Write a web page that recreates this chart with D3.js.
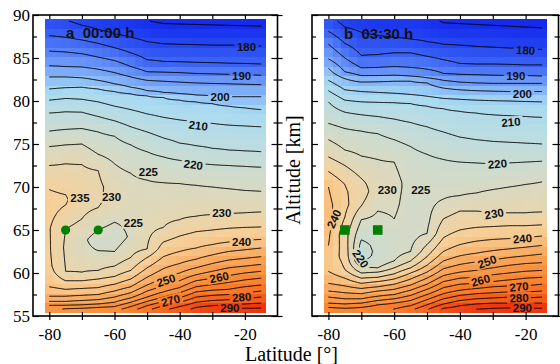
<!DOCTYPE html>
<html>
<head>
<meta charset="utf-8">
<script src="https://cdn.jsdelivr.net/npm/d3@7"></script>
<style>
  html, body { margin: 0; padding: 0; background: #fff; }
  svg { display: block; }
</style>
</head>
<body>
<svg id="chart" width="560" height="364"></svg>
<script>
// ---- data -------------------------------------------------------------
// latitude columns of the temperature sections (deg)
const latitudes = [-80, -75, -70, -65, -60, -55, -50, -45, -40, -35, -30, -25, -20, -15];

// isotherm levels (K)
const contourLevels = [175, 180, 185, 190, 195, 200, 205, 210, 215, 220, 225, 230,
                       235, 240, 245, 250, 255, 260, 265, 270, 275, 280, 285, 290];

// temperature profiles for each latitude column: [altitude km, temperature K]
// section a, 00:00 h
const profilesA = [
  [[89.6,180.8],[87.6,185],[85.8,190],[84.1,195],[82.8,200],[81.4,205],[80.1,210],[78.6,215],[76.5,220],[74.7,225],[72.5,230],[69.7,235],[67.8,237],[65.2,235.3],[62.5,235.5],[60.8,236],[58.4,240],[57.3,245],[56.7,250],[56.25,255],[55.4,261]],
  [[89.6,179.6],[89.4,180],[87.4,185],[85.7,190],[84.0,195],[82.8,200],[81.55,205],[80.3,210],[78.75,215],[76.7,220],[74.9,225],[72.7,230],[69.1,235],[68.5,235.6],[67.9,235],[65.1,230],[63.0,229.2],[60.2,230],[59.1,235],[58.1,240],[57.3,245],[56.7,250],[56.25,255],[55.85,260],[55.4,264]],
  [[89.6,178.3],[88.8,180],[87.1,185],[85.5,190],[83.95,195],[82.7,200],[81.6,205],[80.2,210],[78.7,215],[76.8,220],[75.0,225],[72.6,230],[70.5,232.5],[68.5,232],[66.3,230],[64.0,226.3],[62.5,226.5],[60.1,230],[59.1,235],[58.2,240],[57.4,245],[56.8,250],[56.3,255],[55.9,260],[55.4,265]],
  [[89.6,177.5],[88.3,180],[86.7,185],[85.1,190],[83.7,195],[82.4,200],[81.4,205],[79.9,210],[78.2,215],[76.4,220],[73.8,225],[71.9,230],[70.0,231],[68.5,230.6],[67.6,230],[65.0,225],[63.8,222.5],[62.6,225],[60.3,230],[59.3,235],[58.3,240],[57.5,245],[56.9,250],[56.4,255],[56.0,260],[55.4,266]],
  [[89.6,176.6],[87.8,180],[86.2,185],[84.7,190],[83.3,195],[82.0,200],[81.1,205],[79.4,210],[77.7,215],[75.9,220],[72.7,225],[70.0,228],[68.0,228.5],[65.9,225],[64.2,222],[62.5,225],[60.8,230],[59.6,235],[58.7,240],[57.9,245],[57.2,250],[56.6,255],[56.1,260],[55.4,267]],
  [[89.6,175.8],[87.4,180],[85.6,185],[84.0,190],[82.8,195],[81.6,200],[80.85,205],[79.0,210],[77.0,215],[74.9,220],[71.6,225],[68.5,227],[64.2,225.8],[61.8,230],[60.3,235],[59.3,240],[58.4,245],[57.7,250],[57.1,255],[56.6,260],[56.1,265],[55.4,271]],
  [[89.6,174.6],[89.35,175],[86.9,180],[84.8,185],[83.4,190],[82.4,195],[81.2,200],[80.6,205],[78.5,210],[76.4,215],[74.1,220],[70.8,225],[66.5,228],[62.8,230],[61.8,235],[60.6,240],[59.5,245],[58.6,250],[57.9,255],[57.2,260],[56.7,265],[56.2,270],[55.4,277]],
  [[89.6,173.9],[89.0,175],[86.65,180],[84.6,185],[83.35,190],[82.3,195],[81.0,200],[80.4,205],[78.1,210],[75.7,215],[73.5,220],[70.5,225],[65.3,230],[63.6,235],[61.9,240],[60.5,245],[59.4,250],[58.5,255],[57.8,260],[57.2,265],[56.7,270],[56.2,275],[55.4,282]],
  [[89.6,173.7],[88.95,175],[86.6,180],[84.55,185],[83.3,190],[82.2,195],[80.85,200],[80.1,205],[77.8,210],[75.1,215],[73.1,220],[70.4,225],[66.2,230],[64.3,235],[62.5,240],[61.1,245],[60.0,250],[59.1,255],[58.3,260],[57.7,265],[57.1,270],[56.6,275],[56.1,280],[55.4,286]],
  [[89.6,173.6],[88.9,175],[86.55,180],[84.5,185],[83.2,190],[82.1,195],[80.7,200],[79.9,205],[77.6,210],[74.8,215],[72.8,220],[70.2,225],[66.6,230],[64.8,235],[62.9,240],[61.6,245],[60.6,250],[59.8,255],[59.1,260],[58.4,265],[57.8,270],[57.2,275],[56.6,280],[56.0,285],[55.4,288.5]],
  [[89.6,173.5],[88.85,175],[86.5,180],[84.45,185],[83.15,190],[82.05,195],[80.6,200],[79.7,205],[77.4,210],[74.5,215],[72.6,220],[70.0,225],[66.8,230],[65.0,235],[63.3,240],[62.1,245],[61.1,250],[60.2,255],[59.4,260],[58.65,265],[58.0,270],[57.4,275],[56.8,280],[56.2,285],[55.75,290],[55.4,291]],
  [[89.6,173.4],[88.8,175],[86.5,180],[84.4,185],[83.1,190],[82.0,195],[80.5,200],[79.4,205],[77.2,210],[74.3,215],[72.5,220],[69.8,225],[66.9,230],[65.2,235],[63.6,240],[62.5,245],[61.5,250],[60.6,255],[59.7,260],[58.9,265],[58.1,270],[57.5,275],[56.9,280],[56.3,285],[55.85,290],[55.4,292]],
  [[89.6,173.3],[88.75,175],[86.45,180],[84.35,185],[83.05,190],[81.95,195],[80.5,200],[79.2,205],[77.1,210],[74.2,215],[72.4,220],[69.6,225],[67.0,230],[65.3,235],[63.8,240],[62.7,245],[61.7,250],[60.8,255],[60.0,260],[59.2,265],[58.4,270],[57.7,275],[57.05,280],[56.4,285],[55.9,290],[55.4,292]],
  [[89.6,173.2],[88.7,175],[86.4,180],[84.3,185],[83.0,190],[81.9,195],[80.5,200],[79.0,205],[77.0,210],[74.1,215],[72.3,220],[69.5,225],[67.1,230],[65.35,235],[63.9,240],[62.9,245],[61.9,250],[61.0,255],[60.2,260],[59.4,265],[58.6,270],[57.9,275],[57.2,280],[56.5,285],[55.95,290],[55.4,291.5]]
];

// section b, 03:30 h
const profilesB = [
  [[89.6,181],[88.1,185],[86.6,190],[84.9,195],[83.8,200],[82.4,205],[81.2,210],[79.9,215],[77.4,220],[75.5,225],[73.5,230],[71.8,235],[70.0,240],[66.5,242],[63.2,240],[61.8,238.5],[60.2,240],[58.8,245],[57.9,250],[57.2,255],[56.5,260],[56.0,265],[55.4,270]],
  [[89.6,177.8],[88.6,180],[86.7,185],[85.0,190],[83.4,195],[82.6,200],[81.3,205],[80.1,210],[78.7,215],[76.8,220],[74.3,225],[72.5,230],[70.3,235],[68.0,236.5],[66.5,235],[64.5,232],[62.0,233],[60.4,235],[59.4,240],[58.5,245],[57.7,250],[57.0,255],[56.4,260],[55.9,265],[55.4,268]],
  [[89.6,176.8],[88.0,180],[85.3,185],[83.85,190],[82.95,195],[82.2,200],[81.1,205],[79.9,210],[78.4,215],[76.5,220],[73.6,225],[71.0,230],[69.5,232.5],[67.8,230],[66.2,225],[64.5,221.5],[63.2,218.5],[62.0,218],[61.3,220],[60.7,225],[60.0,230],[59.4,235],[58.8,240],[58.2,245],[57.6,250],[57.0,255],[56.5,260],[56.0,265],[55.4,269]],
  [[89.6,176.2],[87.6,180],[85.4,185],[83.9,190],[82.95,195],[82.25,200],[81.0,205],[79.85,210],[78.2,215],[76.2,220],[73.2,225],[70.5,227.5],[68.5,226.5],[67.2,225],[64.5,222],[62.5,220.8],[61.2,222],[60.6,225],[60.1,230],[59.5,235],[59.0,240],[58.4,245],[57.9,250],[57.3,255],[56.8,260],[56.3,265],[55.4,271]],
  [[89.6,176],[87.4,180],[85.6,185],[84.0,190],[83.0,195],[82.3,200],[80.9,205],[79.8,210],[77.9,215],[75.5,220],[72.9,225],[70.5,226.5],[68.0,225.8],[66.3,225],[64.5,222.5],[62.5,222.8],[61.4,225],[60.6,230],[59.9,235],[59.3,240],[58.7,245],[58.1,250],[57.5,255],[57.0,260],[56.5,265],[55.4,273]],
  [[89.6,176.5],[87.2,180],[85.6,185],[83.9,190],[82.9,195],[82.3,200],[80.75,205],[79.7,210],[77.5,215],[74.7,220],[72.5,222.5],[70.0,223.5],[66.0,223],[64.0,223.5],[62.5,225],[61.4,230],[60.6,235],[60.0,240],[59.3,245],[58.6,250],[58.0,255],[57.4,260],[56.8,265],[56.2,270],[55.4,277]],
  [[89.6,175.6],[86.9,180],[85.2,185],[83.7,190],[82.7,195],[82.1,200],[80.55,205],[79.4,210],[77.0,215],[73.8,220],[71.0,223],[68.0,223.5],[66.0,224],[64.6,225],[63.3,230],[61.9,235],[60.9,240],[60.1,245],[59.4,250],[58.7,255],[58.1,260],[57.5,265],[56.9,270],[56.3,275],[55.4,283]],
  [[89.6,174.2],[89.1,175],[86.6,180],[84.8,185],[83.2,190],[82.4,195],[81.5,200],[80.3,205],[79.1,210],[76.4,215],[73.2,220],[68.6,225],[66.3,230],[64.1,235],[62.5,240],[61.4,245],[60.5,250],[59.7,255],[59.0,260],[58.3,265],[57.6,270],[57.0,275],[56.4,280],[55.9,285],[55.4,289]],
  [[89.6,173.8],[89.0,175],[86.5,180],[84.35,185],[83.1,190],[82.2,195],[81.3,200],[80.2,205],[78.8,210],[75.8,215],[72.9,220],[69.0,225],[67.2,230],[65.0,235],[63.3,240],[62.0,245],[61.0,250],[60.1,255],[59.4,260],[58.7,265],[58.0,270],[57.4,275],[56.8,280],[56.2,285],[55.4,290]],
  [[89.6,173.6],[88.9,175],[86.35,180],[84.3,185],[83.05,190],[82.1,195],[81.2,200],[80.1,205],[78.6,210],[75.5,215],[72.8,220],[69.3,225],[67.2,230],[65.3,235],[63.7,240],[62.3,245],[61.3,250],[60.3,255],[59.5,260],[58.8,265],[58.2,270],[57.6,275],[57.0,280],[56.4,285],[55.8,290],[55.4,291.5]],
  [[89.6,173.5],[88.8,175],[86.25,180],[84.3,185],[83.0,190],[82.05,195],[81.15,200],[80.05,205],[78.4,210],[75.3,215],[72.7,220],[69.7,225],[67.0,230],[65.4,235],[63.9,240],[62.6,245],[61.5,250],[60.6,255],[59.8,260],[59.0,265],[58.4,270],[57.7,275],[57.1,280],[56.5,285],[55.9,290],[55.4,292]],
  [[89.6,173.4],[88.7,175],[86.15,180],[84.25,185],[82.95,190],[82.05,195],[81.1,200],[80.0,205],[78.3,210],[75.2,215],[72.8,220],[70.0,225],[67.0,230],[65.5,235],[64.0,240],[62.8,245],[61.8,250],[60.9,255],[60.0,260],[59.2,265],[58.5,270],[57.8,275],[57.2,280],[56.5,285],[55.95,290],[55.4,292.5]],
  [[89.6,173.3],[88.6,175],[86.1,180],[84.2,185],[82.95,190],[82.05,195],[81.1,200],[79.95,205],[78.2,210],[75.1,215],[72.9,220],[70.3,225],[67.0,230],[65.5,235],[64.1,240],[63.0,245],[62.0,250],[61.1,255],[60.2,260],[59.4,265],[58.5,270],[57.8,275],[57.1,280],[56.5,285],[55.9,290],[55.4,292]],
  [[89.6,173.2],[88.5,175],[86.0,180],[84.2,185],[82.9,190],[82.05,195],[81.1,200],[79.9,205],[78.1,210],[75.0,215],[73.0,220],[70.6,225],[67.1,230],[65.6,235],[64.3,240],[63.2,245],[62.2,250],[61.2,255],[60.3,260],[59.5,265],[58.7,270],[57.9,275],[57.2,280],[56.5,285],[55.9,290],[55.4,291.5]]
];

// isotherm labels: [level, latitude, altitude, rotation deg]
const labelsA = [
  [180, -19.5, 86.35, 0], [190, -21.0, 82.95, 0], [200, -27.6, 80.45, 0],
  [210, -34.3, 77.15, 7], [220, -35.8, 72.6, 7], [225, -49.6, 71.75, 0],
  [235, -70.6, 68.7, 0], [230, -60.9, 68.8, 0], [225, -54.2, 65.8, 0],
  [230, -27.1, 67.0, 0], [240, -21.0, 63.6, 0], [250, -44.2, 59.15, -18],
  [260, -27.9, 59.5, -12], [270, -42.8, 56.8, -15], [280, -21.0, 57.2, -5],
  [290, -24.6, 55.95, 0]
];
const labelsB = [
  [180, -20.0, 85.9, 3], [190, -23.0, 82.9, 0], [200, -21.0, 80.85, 0],
  [210, -24.5, 77.55, -5], [220, -28.6, 72.7, -5], [230, -62.1, 69.7, 0],
  [225, -51.9, 69.7, 0], [230, -29.6, 66.9, -10], [240, -78.3, 66.3, -65],
  [220, -70.2, 61.65, 55], [240, -21.0, 64.0, -5], [250, -31.7, 61.3, -20],
  [260, -33.7, 59.15, -15], [270, -22.0, 58.4, -5], [280, -22.0, 57.1, -3],
  [290, -21.0, 55.95, 0]
];

// measurement sites
const siteLat = [-75, -65];
const siteAlt = [65, 65];

// axis ticks
const latTicks = [-80, -70, -60, -50, -40, -30, -20];
const latTickLabels = [-80, -60, -40, -20];
const altTicks = [55, 60, 65, 70, 75, 80, 85, 90];
const altMinorTicks = [57.5, 62.5, 67.5, 72.5, 77.5, 82.5, 87.5];

const panelTitles = ["a  00:00 h", "b  03:30 h"];

// colour scale for temperature
const colorTemps  = [170, 178, 185, 192, 200, 206, 212, 218, 224, 230, 236, 240, 246, 254, 264, 274, 284, 292];
const colorValues = ["#0a14e6", "#1e3cf0", "#3c64f5", "#6490f8", "#8cbcf8", "#a8daf2", "#b6dce6",
                     "#c6dcd6", "#d6dac6", "#e6d6b0", "#f6d09a", "#f8c486", "#f8b068", "#f89c4c",
                     "#f88834", "#f87024", "#f25016", "#f02a0c"];

// ---- layout -----------------------------------------------------------
const svg = d3.select("#chart");
const yAlt = d3.scaleLinear().domain([55, 90]).range([316, 15]);
const panels = [
  { x: d3.scaleLinear().domain([-85, -10]).range([33, 277.5]), profiles: profilesA, labels: labelsA,
    title: panelTitles[0], titlePos: [66, 38], marker: "circle", yLabels: true },
  { x: d3.scaleLinear().domain([-85, -10]).range([312, 558.5]), profiles: profilesB, labels: labelsB,
    title: panelTitles[1], titlePos: [344, 39], marker: "square", yLabels: false }
];
const tempColor = d3.scaleLinear().domain(colorTemps).range(colorValues)
  .interpolate(d3.interpolateRgb).clamp(true);

// temperature at (lat, alt): linear along each profile, then across latitude
function makeField(profiles) {
  const cols = profiles.map(p => p.slice().sort((a, b) => a[0] - b[0]));
  function colT(c, alt) {
    const p = cols[c];
    if (alt <= p[0][0]) return p[0][1];
    if (alt >= p[p.length - 1][0]) return p[p.length - 1][1];
    for (let i = 1; i < p.length; i++) {
      if (alt <= p[i][0]) {
        const [a0, t0] = p[i - 1], [a1, t1] = p[i];
        return t0 + (t1 - t0) * (alt - a0) / (a1 - a0);
      }
    }
  }
  const step = latitudes[1] - latitudes[0];
  return function (lat, alt) {
    const f = (lat - latitudes[0]) / step;
    const i = Math.max(0, Math.min(latitudes.length - 2, Math.floor(f)));
    const t = Math.max(0, Math.min(1, f - i));
    return colT(i, alt) * (1 - t) + colT(i + 1, alt) * t;
  };
}

// isolines from d3.contours, keeping only the segments away from the grid border
function isolines(field) {
  const lat0 = latitudes[0], dLat = 0.25, altTop = 89.3, dAlt = 0.1;
  const nx = Math.round((latitudes[latitudes.length - 1] - lat0) / dLat) + 1;
  const ny = Math.round((altTop - 55.8) / dAlt) + 1;
  const values = new Float64Array(nx * ny);
  for (let j = 0; j < ny; j++)
    for (let i = 0; i < nx; i++)
      values[j * nx + i] = field(lat0 + i * dLat, altTop - j * dAlt);
  const onEdge = p => p[0] <= 0 || p[0] >= nx || p[1] <= 0 || p[1] >= ny;
  const toGeo = p => [lat0 + (p[0] - 0.5) * dLat, altTop - (p[1] - 0.5) * dAlt];
  const out = [];
  d3.contours().size([nx, ny]).thresholds(contourLevels)(values).forEach(mp => {
    mp.coordinates.forEach(poly => poly.forEach(ring => {
      const pts = ring.slice(0, -1);
      const n = pts.length;
      const start = pts.findIndex(onEdge);
      if (start < 0) { out.push(ring.map(toGeo)); return; }
      let cur = [];
      for (let k = 0; k <= n; k++) {
        const p = pts[(start + k) % n];
        if (onEdge(p)) { if (cur.length > 1) out.push(cur.map(toGeo)); cur = []; }
        else cur.push(p);
      }
    }));
  });
  return out;
}

const defs = svg.append("defs");

panels.forEach((pn, idx) => {
  const x = pn.x;
  const field = makeField(pn.profiles);
  const g = svg.append("g");

  // colour cells
  const cellLats = latitudes.flatMap(l => [l, l + 2.5]).filter(l => l <= -15);
  const rows = 31, altLo = 55.45, altHi = 89.55, dh = (altHi - altLo) / rows;
  const cells = [];
  cellLats.forEach(lat => {
    for (let k = 0; k < rows; k++) {
      const a = altLo + (k + 0.5) * dh;
      cells.push({ lat, a, t: field(lat, a) });
    }
  });
  g.append("g").attr("shape-rendering", "crispEdges")
    .selectAll("rect").data(cells).join("rect")
    .attr("x", d => x(d.lat - 1.25))
    .attr("width", d => x(d.lat + 1.25) - x(d.lat - 1.25) + 0.6)
    .attr("y", d => yAlt(d.a + dh / 2))
    .attr("height", d => yAlt(d.a - dh / 2) - yAlt(d.a + dh / 2) + 0.6)
    .attr("fill", d => tempColor(d.t));

  // label gaps in the isolines
  const mask = defs.append("mask").attr("id", "gap" + idx)
    .attr("maskUnits", "userSpaceOnUse").attr("x", 0).attr("y", 0).attr("width", 560).attr("height", 364);
  mask.append("rect").attr("width", 560).attr("height", 364).attr("fill", "#fff");
  mask.selectAll("rect.g").data(pn.labels).join("rect").attr("class", "g")
    .attr("x", -12).attr("y", -5.5).attr("width", 24).attr("height", 11).attr("fill", "#000")
    .attr("transform", d => `translate(${x(d[1])},${yAlt(d[2])}) rotate(${d[3]})`);

  const line = d3.line().x(d => x(d[0])).y(d => yAlt(d[1]));
  g.append("g").attr("mask", `url(#gap${idx})`)
    .selectAll("path").data(isolines(field)).join("path")
    .attr("d", line).attr("fill", "none").attr("stroke", "#000")
    .attr("stroke-width", 1).attr("stroke-linejoin", "round");

  // isoline labels
  g.append("g").selectAll("text").data(pn.labels).join("text")
    .attr("transform", d => `translate(${x(d[1])},${yAlt(d[2])}) rotate(${d[3]})`)
    .attr("text-anchor", "middle").attr("dy", "0.36em")
    .style("font", "bold 11.5px 'Liberation Sans', Arial, sans-serif").style("fill", "#111")
    .text(d => d[0]);

  // sites
  const sites = siteLat.map((l, i) => [l, siteAlt[i]]);
  if (pn.marker === "circle") {
    g.selectAll("circle.site").data(sites).join("circle").attr("class", "site")
      .attr("cx", d => x(d[0])).attr("cy", d => yAlt(d[1])).attr("r", 4.6).attr("fill", "#008000");
  } else {
    g.selectAll("rect.site").data(sites).join("rect").attr("class", "site")
      .attr("x", d => x(d[0]) - 4.8).attr("y", d => yAlt(d[1]) - 4.8)
      .attr("width", 9.6).attr("height", 9.6).attr("fill", "#008000");
  }

  // title
  g.append("text").attr("x", pn.titlePos[0]).attr("y", pn.titlePos[1])
    .style("font", "bold 15px 'Liberation Sans', Arial, sans-serif").style("white-space", "pre")
    .attr("fill", "#111").text(pn.title);

  // axes
  const x0 = x.range()[0], x1 = x.range()[1], yB = yAlt.range()[0], yT = yAlt.range()[1];
  const noLabel = () => "";
  const ax = (axis, tr) => {
    const s = svg.append("g").attr("transform", tr).call(axis);
    s.select(".domain").remove();
    s.selectAll("line").attr("stroke", "#000").attr("stroke-width", 1.2);
    return s;
  };
  // bottom
  ax(d3.axisBottom(x).tickValues(latTicks).tickSize(-4).tickPadding(12)
      .tickFormat(d => latTickLabels.includes(d) ? d : ""), `translate(0,${yB})`)
    .selectAll("text").style("font", "17px 'Liberation Serif', 'Times New Roman', serif").attr("fill", "#000");
  ax(d3.axisBottom(x).tickValues(latTicks).tickSize(4).tickFormat(noLabel), `translate(0,${yB})`);
  // top
  ax(d3.axisTop(x).tickValues(latTicks).tickSize(-4).tickFormat(noLabel), `translate(0,${yT})`);
  // left
  const left = ax(d3.axisLeft(yAlt).tickValues(altTicks).tickSize(-6).tickPadding(3)
      .tickFormat(pn.yLabels ? (d => d) : noLabel), `translate(${x0},0)`);
  left.selectAll("text").style("font", "17px 'Liberation Serif', 'Times New Roman', serif").attr("fill", "#000");
  ax(d3.axisLeft(yAlt).tickValues(altMinorTicks).tickSize(-4).tickFormat(noLabel), `translate(${x0},0)`);
  // right
  ax(d3.axisRight(yAlt).tickValues(altTicks).tickSize(-6).tickFormat(noLabel), `translate(${x1},0)`);
  ax(d3.axisRight(yAlt).tickValues(altMinorTicks).tickSize(-4).tickFormat(noLabel), `translate(${x1},0)`);
  ax(d3.axisRight(yAlt).tickValues(altTicks.concat(altMinorTicks)).tickSize(5).tickFormat(noLabel), `translate(${x1},0)`);

  // frame
  svg.append("rect").attr("x", x0).attr("y", yT).attr("width", x1 - x0).attr("height", yB - yT)
    .attr("fill", "none").attr("stroke", "#000").attr("stroke-width", 1.6);
});

// axis titles
svg.append("text").attr("x", 291.5).attr("y", 361).attr("text-anchor", "middle")
  .style("font", "20px 'Liberation Serif', 'Times New Roman', serif").attr("fill", "#000")
  .text("Latitude [°]");
svg.append("text").attr("transform", "translate(300,170) rotate(-90)").attr("text-anchor", "middle")
  .style("font", "20px 'Liberation Serif', 'Times New Roman', serif").attr("fill", "#000")
  .text("Altitude [km]");
</script>
</body>
</html>
